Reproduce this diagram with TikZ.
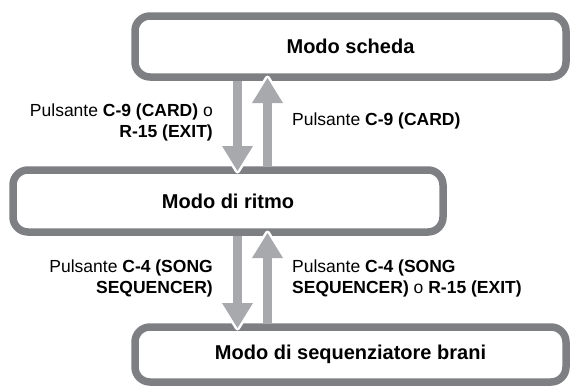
\documentclass[tikz,border=0pt]{standalone}
\usepackage{fontspec}
\setmainfont{Liberation Sans}
\usetikzlibrary{calc}
\definecolor{boxgray}{RGB}{126,127,131}
\definecolor{arrowgray}{RGB}{168,169,173}
\tikzset{
  modebox/.style={draw=boxgray, line width=7.5pt, rounded corners=15pt, outer sep=0pt,
    inner sep=0pt, font=\bfseries\fontsize{20}{24}\selectfont},
  lbl/.style={inner sep=0pt, font=\fontsize{17.5}{21.5}\selectfont},
  shaftline/.style={draw=arrowgray, line width=9pt},
  headhalo/.style={draw=white, line width=5pt, line join=round},
  headfill/.style={fill=arrowgray},
}
\newcommand\bigarrow[2]{%
  \coordinate (hb) at ($(#2)!25pt!(#1)$);
  \coordinate (hl) at ($(hb)!15.5pt!90:(#2)$);
  \coordinate (hr) at ($(hb)!15.5pt!-90:(#2)$);
  \draw[headhalo] (#2) -- (hl) -- (hr) -- cycle;
  \draw[shaftline] (#1) -- (hb);
  \fill[headfill] (#2) -- (hl) -- (hr) -- cycle;
}
\begin{document}
\begin{tikzpicture}[x=1pt,y=-1pt]
\useasboundingbox (0,0) rectangle (572,386);
\node[modebox, minimum width=431pt, minimum height=61pt] (top) at (350.5,46.5) {Modo scheda};
\node[modebox, minimum width=430pt, minimum height=62pt] (mid) at (228,201) {Modo di ritmo};
\node[modebox, minimum width=431pt, minimum height=55pt] (bot) at (350.5,354.5) {Modo di sequenziatore brani};
\coordinate (xd) at (237.5,0);
\coordinate (xu) at (267.5,0);
% top pair
\coordinate (a1s) at ($(xd |- top.south)+(0,3.75)$);
\coordinate (a1e) at ($(xd |- mid.north)+(0,1)$);
\bigarrow{a1s}{a1e}
\coordinate (a2s) at ($(xu |- mid.north)+(0,-3.75)$);
\coordinate (a2e) at ($(xu |- top.south)+(0,1)$);
\bigarrow{a2s}{a2e}
% bottom pair
\coordinate (a3s) at ($(xd |- mid.south)+(0,3.75)$);
\coordinate (a3e) at ($(xd |- bot.north)+(0,1)$);
\bigarrow{a3s}{a3e}
\coordinate (a4s) at ($(xu |- bot.north)+(0,-3.75)$);
\coordinate (a4e) at ($(xu |- mid.south)+(0,1)$);
\bigarrow{a4s}{a4e}
% labels
\node[lbl, anchor=north east, align=right] (la) at (213,103.5) {Pulsante \textbf{C-9 (CARD)} o\\\textbf{R-15 (EXIT)}};
\node[lbl, anchor=north west, align=left] (lb) at (292,112.5) {Pulsante \textbf{C-9 (CARD)}};
\node[lbl, anchor=north east, align=right] (lc) at (213,259.5) {Pulsante \textbf{C-4 (SONG}\\\textbf{SEQUENCER)}};
\node[lbl, anchor=north west, align=left] (ld) at (292,259.5) {Pulsante \textbf{C-4 (SONG}\\\textbf{SEQUENCER)} o \textbf{R-15 (EXIT)}};
\end{tikzpicture}
\end{document}
